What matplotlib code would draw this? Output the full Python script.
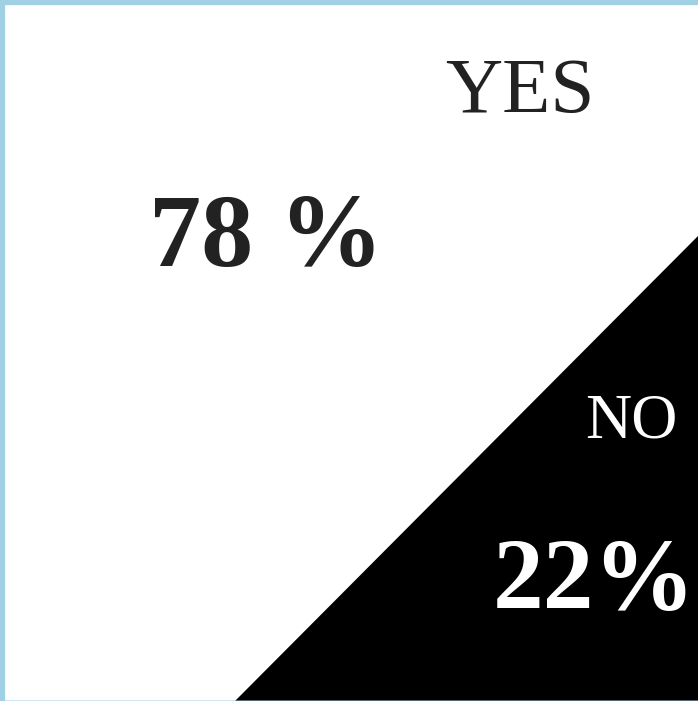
import numpy as np
import matplotlib
matplotlib.use("Agg")
import matplotlib.pyplot as plt
from matplotlib.patches import Polygon

categories = ["YES", "NO"]
values = [78, 22]
value_labels = ["78 %", "22%"]

W, H = 698, 701
fig = plt.figure(figsize=(W / 100, H / 100), dpi=100)
fig.patch.set_facecolor("white")
ax = fig.add_axes([0, 0, 1, 1])
ax.set_xlim(0, 1)
ax.set_ylim(0, 1)
ax.axis("off")

# black triangle in lower-right whose area equals the NO share
leg = np.sqrt(2 * values[1] / 100)
tri = Polygon([[1 - leg, 0], [1, 0], [1, leg]], closed=True,
              facecolor="black", edgecolor="none")
ax.add_patch(tri)

# light blue frame on top and left
border = "#9fd0e3"
ax.plot([0, 1], [1 - 2 / H, 1 - 2 / H], color=border, lw=4.5, solid_capstyle="butt")
ax.plot([2 / W, 2 / W], [0, 1], color=border, lw=4.5, solid_capstyle="butt")
ax.plot([0, 1], [0.5 / H, 0.5 / H], color=border, lw=1.2, alpha=0.6)

serif = ["Liberation Serif", "DejaVu Serif"]
ax.text(520 / W, 1 - 93 / H, categories[0], ha="center", va="center",
        fontsize=57, family=serif, color="#222222")
ax.text(266 / W, 1 - 241 / H, value_labels[0], ha="center", va="center",
        fontsize=75, family=serif, fontweight="bold", color="#222222")
ax.text(631 / W, 1 - 423 / H, categories[1], ha="center", va="center",
        fontsize=46, family=serif, color="white")
ax.text(594 / W, 1 - 584 / H, value_labels[1], ha="center", va="center",
        fontsize=73, family=serif, fontweight="bold", color="white")

fig.savefig("out.png", dpi=100, facecolor="white")
